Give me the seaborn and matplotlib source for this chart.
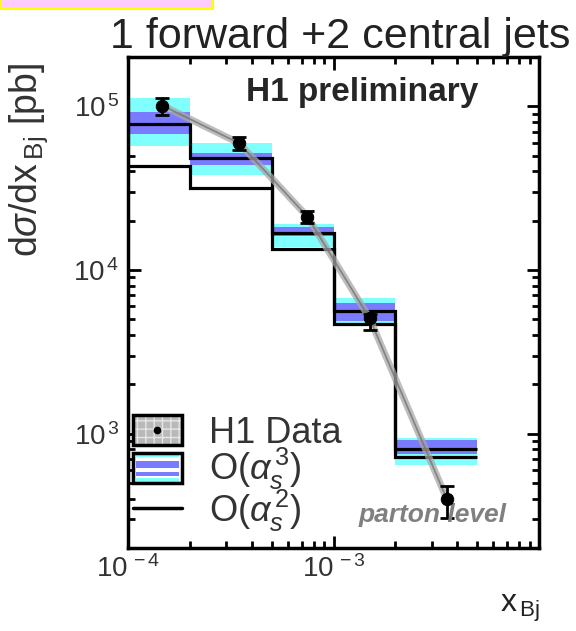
import numpy as np
import matplotlib
matplotlib.use('Agg')
import matplotlib.pyplot as plt
import seaborn as sns
from matplotlib.patches import Rectangle
from matplotlib.lines import Line2D
from matplotlib.legend_handler import HandlerBase
from matplotlib.ticker import LogLocator, FuncFormatter, NullFormatter

# bin edges in x_Bj
x_edges = [1e-4, 2e-4, 5e-4, 1e-3, 2e-3, 5e-3]

# O(alpha_s^3) prediction with inner (blue) and outer (cyan) uncertainty
nlo = [7.8e4, 4.8e4, 1.69e4, 5.65e3, 810]
nlo_inner_hi = [9.2e4, 5.2e4, 1.82e4, 6.3e3, 918]
nlo_inner_lo = [6.75e4, 4.4e4, 1.62e4, 4.9e3, 755]
nlo_outer_hi = [1.13e5, 6.0e4, 1.9e4, 6.7e3, 946]
nlo_outer_lo = [5.7e4, 3.8e4, 1.39e4, 4.77e3, 646]

# O(alpha_s^2) prediction
lo = [4.3e4, 3.15e4, 1.35e4, 4.7e3, 723]

# H1 data
data_x = [1.47e-4, 3.47e-4, 7.46e-4, 1.5e-3, 3.56e-3]
data_y = [1.01e5, 5.95e4, 2.12e4, 5.05e3, 398]
data_lo = [8.8e4, 5.4e4, 1.93e4, 4.3e3, 306]
data_hi = [1.12e5, 6.5e4, 2.3e4, 5.4e3, 479]

CYAN = '#80ffff'
BLUE = '#7b7bff'

sns.set_theme(style='ticks')
plt.rcParams['font.family'] = ['Liberation Sans', 'DejaVu Sans']
plt.rcParams['mathtext.fontset'] = 'custom'
plt.rcParams['mathtext.rm'] = 'Liberation Sans'
plt.rcParams['mathtext.it'] = 'Liberation Sans:italic'
plt.rcParams['mathtext.bf'] = 'Liberation Sans:bold'


class StripeHandler(HandlerBase):
    # legend box with horizontal stripes, optional dot in the middle
    def __init__(self, stripes, face='white', dot=False, hatch=None):
        super().__init__()
        self.stripes = stripes
        self.face = face
        self.dot = dot
        self.hatch = hatch

    def create_artists(self, legend, orig_handle, xdescent, ydescent,
                       width, height, fontsize, trans):
        x0, y0 = -xdescent, -ydescent
        h = height
        arts = [Rectangle((x0, y0), width, h, facecolor=self.face,
                          edgecolor='none', transform=trans)]
        if self.hatch:
            arts.append(Rectangle((x0, y0), width, h, fill=False, hatch=self.hatch,
                                  edgecolor='#e6e6e6', lw=0, transform=trans))
        for frac0, frac_h, col in self.stripes:
            arts.append(Rectangle((x0 + 0.07 * width, y0 + frac0 * h), 0.86 * width,
                                  frac_h * h, facecolor=col, edgecolor='none',
                                  transform=trans))
        if self.dot:
            arts.append(Line2D([x0 + width / 2], [y0 + h / 2], marker='o',
                               ms=4.5, color='black', transform=trans))
        arts.append(Rectangle((x0, y0), width, h, fill=False, edgecolor='black',
                              lw=2.5, transform=trans))
        return arts


fig = plt.figure(figsize=(5.76, 6.31), dpi=100)
ax = fig.add_axes([0.2222, 0.1315, 0.7136, 0.7782])
ax.set_xscale('log')
ax.set_yscale('log')

ax.stairs(nlo_outer_hi, x_edges, baseline=nlo_outer_lo, fill=True, color=CYAN, lw=0)
ax.stairs(nlo_inner_hi, x_edges, baseline=nlo_inner_lo, fill=True, color=BLUE, lw=0)
ax.stairs(nlo, x_edges, baseline=None, color='black', lw=2.3)
ax.stairs(lo, x_edges, baseline=None, color='black', lw=2.3)

# data band
sns.lineplot(x=data_x, y=data_y, ax=ax, color='#a8a8a8', lw=5, alpha=0.75,
             sort=False, estimator=None, legend=False)
sns.lineplot(x=data_x, y=data_y, ax=ax, color='#777777', lw=1.3, alpha=0.8,
             sort=False, estimator=None, legend=False)
ax.errorbar(data_x, data_y,
            yerr=[np.array(data_y) - np.array(data_lo), np.array(data_hi) - np.array(data_y)],
            fmt='none', ecolor='black', elinewidth=2, capsize=5, capthick=2)
sns.scatterplot(x=data_x, y=data_y, ax=ax, color='black', s=80, edgecolor='black',
                zorder=5, legend=False)

ax.set_xlim(1e-4, 1e-2)
ax.set_ylim(200, 2e5)


def dec_label(v, _):
    p = int(round(np.log10(v)))
    if p == -2:
        return ''
    return r'$10^{\,%d}$' % p


for axis in (ax.xaxis, ax.yaxis):
    axis.set_major_locator(LogLocator(base=10, numticks=10))
    axis.set_minor_locator(LogLocator(base=10, subs=np.arange(2, 10), numticks=20))
    axis.set_major_formatter(FuncFormatter(dec_label))
    axis.set_minor_formatter(NullFormatter())
ax.tick_params(which='both', direction='in', top=True, right=True, colors='black',
               labelcolor='#333333', labelsize=20)
ax.tick_params(which='major', length=9, width=2)
ax.tick_params(which='minor', length=5, width=2)
ax.tick_params(axis='x', pad=5)
ax.tick_params(axis='y', pad=6)
for s in ax.spines.values():
    s.set_linewidth(2.5)
    s.set_color('black')
ax.set_xlabel('')
ax.set_ylabel('')

ax.text(0.57, 0.96, 'H1 preliminary', transform=ax.transAxes, fontsize=24,
        fontweight='bold', ha='center', va='top')
ax.text(0.742, 0.043, 'parton level', transform=ax.transAxes, fontsize=19,
        fontweight='bold', style='italic', color='#808080', ha='center', va='bottom')

h_data = Rectangle((0, 0), 1, 1)
h_nlo = Rectangle((0, 0), 1, 1)
h_lo = Line2D([], [], color='black', lw=2.5)
leg = ax.legend([h_data, h_nlo, h_lo],
                ['H1 Data', r'O($\alpha_s^{\,3}$)', r'O($\alpha_s^{\,2}$)'],
                handler_map={
                    h_data: StripeHandler([], face='#b9b9b9', dot=True, hatch='++'),
                    h_nlo: StripeHandler([(0.03, 0.13, CYAN), (0.24, 0.13, BLUE),
                                          (0.5, 0.24, BLUE), (0.86, 0.12, CYAN)]),
                },
                loc='lower left', bbox_to_anchor=(0.012, 0.028), frameon=False,
                fontsize=26, handlelength=1.36, handleheight=0.92,
                handletextpad=0.75, labelspacing=-0.12, borderpad=0, borderaxespad=0)
for t in leg.get_texts():
    t.set_color('#333333')

fig.text(0.99, 0.924, '1 forward +2 central jets', fontsize=31, ha='right',
         va='baseline', color='#222222')
fig.text(0.049, 0.746, r'd$\sigma$/dx$_{\,\mathrm{Bj}}$ [pb]', fontsize=27, rotation=90,
         ha='center', va='center', color='#333333')
fig.text(0.9375, 0.03, r'x$_{\,\mathrm{Bj}}$', fontsize=23, ha='right', va='baseline',
         color='#222222')

fig.patches.append(Rectangle((0, 1 - 9 / 631), 213 / 576, 9 / 631 + 0.01,
                             transform=fig.transFigure, facecolor='#ffccff',
                             edgecolor='#ffff00', lw=1.5, figure=fig))

fig.savefig('out.png', dpi=100)
